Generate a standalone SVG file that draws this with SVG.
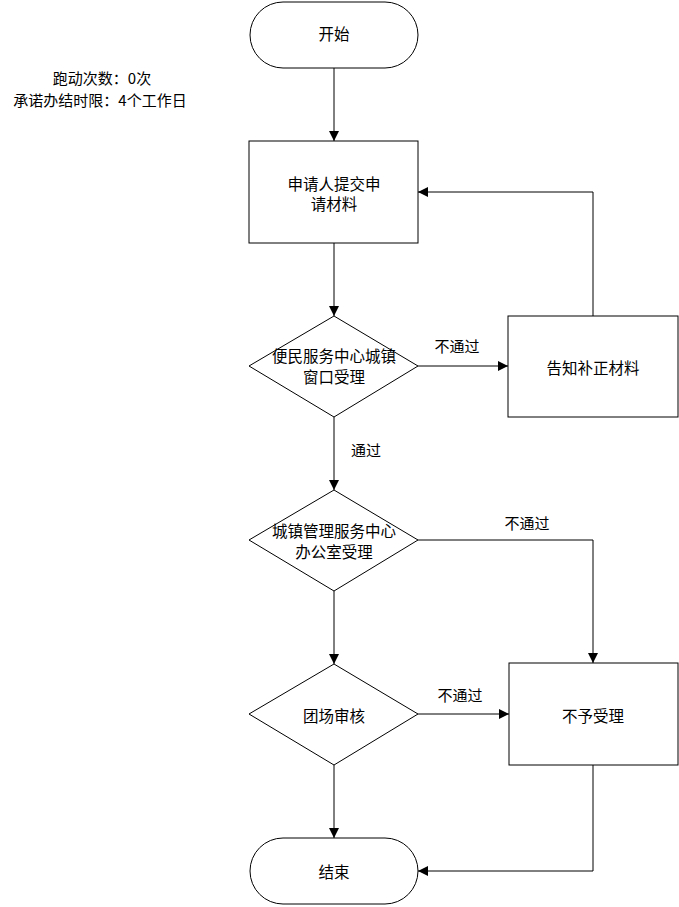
<svg xmlns="http://www.w3.org/2000/svg" width="679" height="907" viewBox="0 0 679 907">
<style>
.n{fill:#fff;stroke:#000;stroke-width:1}
.t{font-family:"Noto Sans CJK SC","Liberation Sans",sans-serif;font-size:15.5px;fill:#000;text-anchor:middle;dominant-baseline:central}
.s{font-size:15px}
.c{fill:none;stroke:#000;stroke-width:1;marker-end:url(#a)}
</style>
<defs>
<marker id="a" viewBox="0 0 10 10" refX="10" refY="5" markerWidth="10" markerHeight="10" markerUnits="userSpaceOnUse" orient="auto">
<path d="M0,0 L10,5 L0,10 z" fill="#000"/>
</marker>
</defs>
<rect width="679" height="907" fill="#fff"/>
<g id="note">
<text class="t s" x="102" y="77">跑动次数：0次</text>
<text class="t s" x="100" y="99">承诺办结时限：4个工作日</text>
</g>
<g id="edges">
<path class="c" d="M334,68 V141"/>
<path class="c" d="M334,243 V316"/>
<path class="c" d="M418,366 H508"/>
<path class="c" d="M593,316 V192 H418"/>
<path class="c" d="M334,417 V490"/>
<path class="c" d="M418,540 H593 V663"/>
<path class="c" d="M334,591 V664"/>
<path class="c" d="M418,714 H509"/>
<path class="c" d="M593,765 V871 H418"/>
<path class="c" d="M334,765 V838"/>
<text class="t s" x="457" y="345">不通过</text>
<text class="t s" x="366" y="449">通过</text>
<text class="t s" x="527" y="522">不通过</text>
<text class="t s" x="460" y="694">不通过</text>
</g>
<g id="start">
<rect class="n" x="250" y="2" width="168" height="66" rx="33"/>
<text class="t" x="334" y="33">开始</text>
</g>
<g id="submit">
<rect class="n" x="249" y="141" width="169" height="102"/>
<text class="t" x="334" y="183">申请人提交申</text>
<text class="t" x="334" y="203">请材料</text>
</g>
<g id="window">
<polygon class="n" points="334,316 418,366 334,417 249,366"/>
<text class="t" x="334" y="355">便民服务中心城镇</text>
<text class="t" x="334" y="376">窗口受理</text>
</g>
<g id="notify">
<rect class="n" x="508" y="316" width="170" height="101"/>
<text class="t" x="593" y="367">告知补正材料</text>
</g>
<g id="office">
<polygon class="n" points="334,490 418,540 334,591 249,540"/>
<text class="t" x="334" y="530">城镇管理服务中心</text>
<text class="t" x="334" y="551">办公室受理</text>
</g>
<g id="review">
<polygon class="n" points="334,664 418,714 334,765 249,714"/>
<text class="t" x="334" y="715">团场审核</text>
</g>
<g id="reject">
<rect class="n" x="509" y="663" width="169" height="102"/>
<text class="t" x="593" y="715">不予受理</text>
</g>
<g id="end">
<rect class="n" x="250" y="838" width="168" height="66" rx="33"/>
<text class="t" x="334" y="871">结束</text>
</g>
</svg>
